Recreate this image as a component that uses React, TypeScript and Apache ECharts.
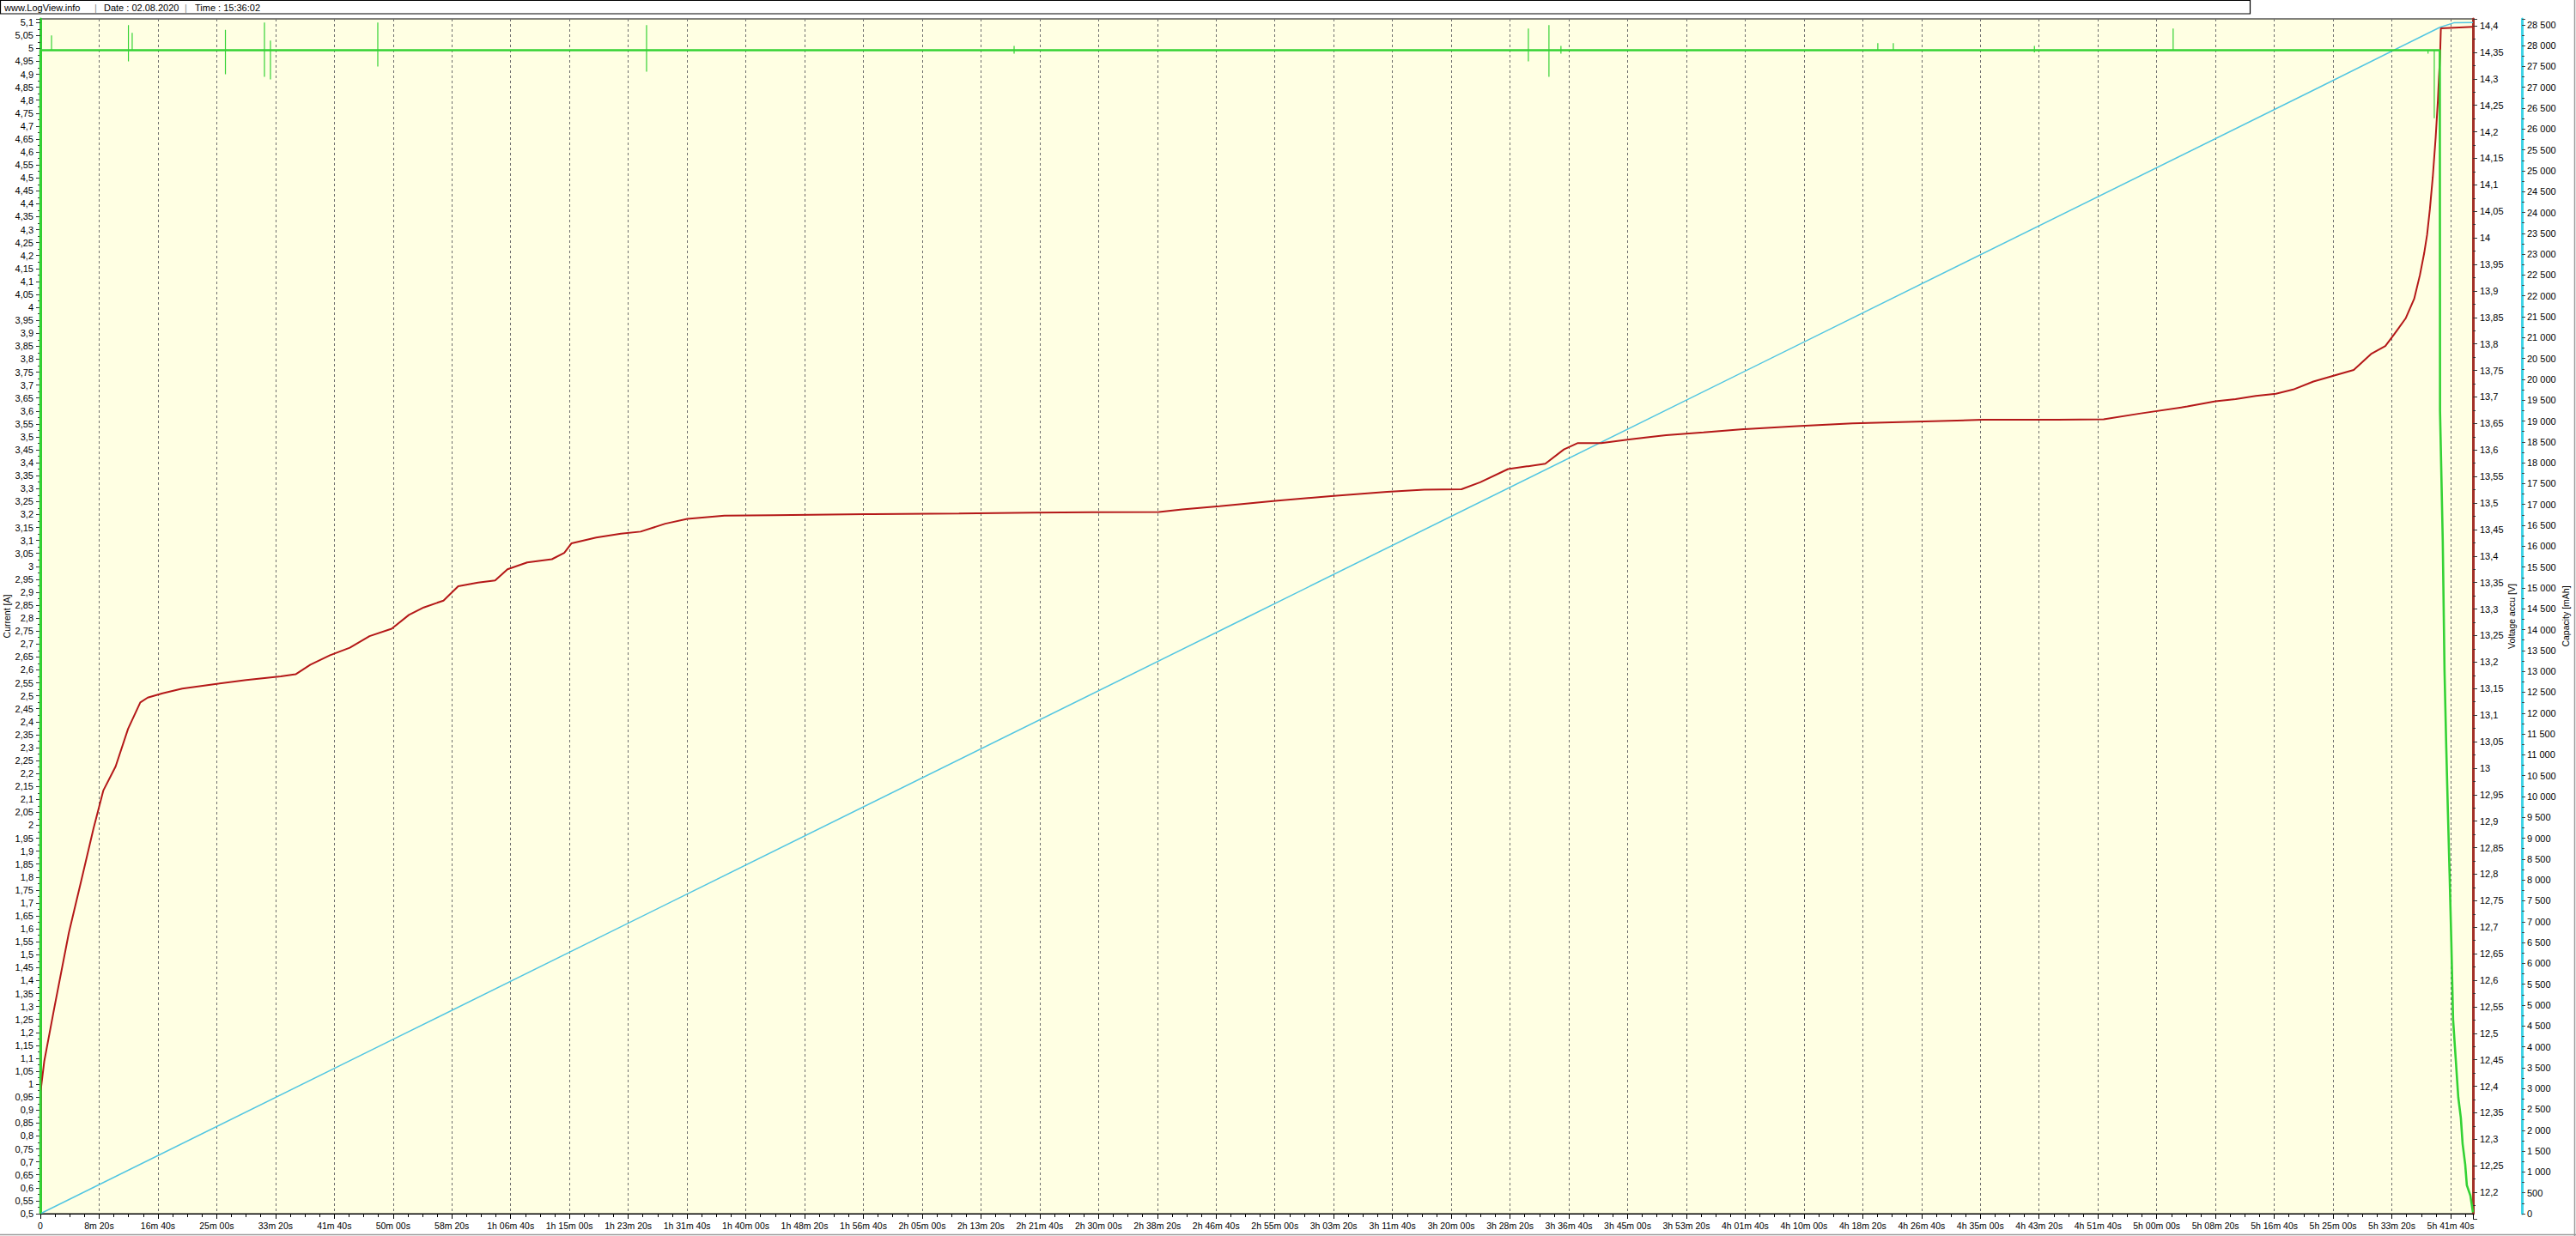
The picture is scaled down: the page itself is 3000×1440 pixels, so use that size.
import React, { useEffect, useRef } from "react";
import * as echarts from "echarts";

// ---------- DATA ----------
// x in seconds since start
const X_MAX = 20690;

// Current [A]  main trace (t, A)
const currentPoints: [number, number][] = [
  [0, 0.5], [0, 4.993], [20408, 4.993],
  [20410, 3.6], [20433, 3.1], [20448, 2.6], [20463, 2.3],
  [20477, 2.05], [20492, 1.8], [20506, 1.55], [20521, 1.25], [20543, 1.1],
  [20565, 0.95], [20587, 0.87], [20602, 0.77], [20624, 0.69], [20638, 0.61],
  [20668, 0.57], [20690, 0.505],
];

// Current [A]  short glitches: (t, top, bottom)
const currentSpikes: [number, number, number][] = [
  [95, 5.05, 4.993], [749, 5.09, 4.95], [781, 5.06, 4.993], [1574, 5.072, 4.9],
  [1906, 5.1, 4.89], [1957, 5.03, 4.88], [2870, 5.1, 4.93], [5156, 5.09, 4.91],
  [8282, 5.01, 4.98], [12656, 5.077, 4.95], [12831, 5.09, 4.89], [12933, 5.01, 4.98],
  [15628, 5.02, 4.993], [15760, 5.02, 4.993], [16960, 5.01, 4.985], [18140, 5.077, 4.993],
  [20308, 4.993, 4.98], [20361, 4.993, 4.73],
];

// Voltage accu [V]  (t, V)
const voltagePoints: [number, number][] = [
  [0, 12.165], [2, 12.39], [33, 12.447], [117, 12.546], [242, 12.689], [347, 12.787],
  [452, 12.886], [536, 12.958], [640, 13.003], [746, 13.074], [850, 13.124], [913, 13.133],
  [1039, 13.141], [1207, 13.15], [1500, 13.159], [1751, 13.166], [2045, 13.173], [2171, 13.177],
  [2297, 13.195], [2464, 13.213], [2632, 13.227], [2800, 13.249], [2988, 13.263], [3135, 13.289],
  [3261, 13.303], [3429, 13.316], [3554, 13.343], [3722, 13.35], [3868, 13.354], [3973, 13.375],
  [4141, 13.388], [4351, 13.394], [4456, 13.406], [4518, 13.424], [4728, 13.435], [4938, 13.442],
  [5105, 13.446], [5315, 13.461], [5503, 13.47], [5818, 13.476], [6237, 13.477], [7021, 13.479],
  [7813, 13.48], [8446, 13.482], [9514, 13.483], [9712, 13.488], [10029, 13.494], [10504, 13.504],
  [10978, 13.513], [11454, 13.521], [11770, 13.525], [12087, 13.526], [12246, 13.539], [12483, 13.564],
  [12800, 13.574], [12958, 13.601], [13077, 13.613], [13275, 13.613], [13512, 13.62], [13828, 13.628],
  [14145, 13.633], [14462, 13.639], [14937, 13.645], [15412, 13.65], [15886, 13.653], [16520, 13.657],
  [17153, 13.657], [17549, 13.658], [17865, 13.669], [18261, 13.682], [18500, 13.692], [18671, 13.696],
  [18843, 13.702], [19014, 13.706], [19161, 13.714], [19333, 13.729], [19504, 13.74], [19676, 13.751],
  [19823, 13.781], [19945, 13.796], [20019, 13.818], [20117, 13.848], [20190, 13.885], [20239, 13.93],
  [20275, 13.971], [20300, 14.006], [20324, 14.055], [20348, 14.114], [20373, 14.19], [20392, 14.26],
  [20402, 14.308], [20410, 14.341], [20417, 14.395], [20690, 14.398],
];

// Capacity [mAh]  (t, mAh)
const capacityPoints: [number, number][] = [
  [0, 0], [3000, 4179], [10266, 14300], [15278, 21282], [19375, 26989],
  [20410, 28440], [20527, 28545], [20690, 28550],
];

const headerTexts = ["www.LogView.info", "Date : 02.08.2020", "Time : 15:36:02"];
const axisNames = ["Current [A]", "Voltage accu [V]", "Capacity [mAh]"];

// ---------- formatting ----------
const FONT = "'Liberation Sans', Arial, sans-serif";
const pad2 = (n: number) => String(n).padStart(2, "0");
const fmtTime = (v: number) => {
  const t = Math.round(v);
  if (t === 0) return "0";
  const h = Math.floor(t / 3600);
  const m = Math.floor((t % 3600) / 60);
  const s = t % 60;
  return h > 0 ? `${h}h ${pad2(m)}m ${pad2(s)}s` : `${m}m ${pad2(s)}s`;
};
const fmtDec = (v: number) => String(Math.round(v * 100) / 100).replace(".", ",");
const fmtCap = (v: number) => {
  const r = Math.round(v);
  return r >= 1000 ? `${Math.floor(r / 1000)} ${String(r % 1000).padStart(3, "0")}` : String(r);
};
// vertical segments separated by empty points
const segments = (rows: [number, number, number][]) =>
  rows.flatMap(([t, a, b]) => [[t, a], [t, b], [t, "-"]]);

const GREEN = "#34D234";
const RED = "#B41818";
const CYAN = "#52C6E2";
const RED_AXIS = "#A33028";
const CYAN_AXIS = "#3FD3E6";

const labelStyle = { color: "#000", fontSize: 11, fontFamily: FONT };

function buildOption(): any {
  return {
    animation: false,
    backgroundColor: "#ffffff",
    textStyle: { fontFamily: FONT },
    grid: [
      {
        left: 47, top: 22, width: 2833, height: 1392,
        show: true, backgroundColor: "#FFFFE3", borderColor: "#000", borderWidth: 1,
      },
      { left: 47, top: 22, width: 2833, height: 1398, show: false },
    ],
    xAxis: [
      {
        gridIndex: 0, type: "value", min: 0, max: X_MAX, interval: 500,
        axisLine: { show: true, onZero: false, lineStyle: { color: "#000", width: 1 } },
        axisTick: { show: true, length: 6, lineStyle: { color: "#000" } },
        minorTick: { show: true, splitNumber: 4, length: 4, lineStyle: { color: "#000" } },
        axisLabel: {
          ...labelStyle, fontSize: 10.5, margin: 8, showMaxLabel: false,
          formatter: fmtTime,
        },
        splitLine: { show: true, lineStyle: { color: "#6e6e6e", width: 1, type: [3, 3] } },
      },
      { gridIndex: 1, type: "value", min: 0, max: X_MAX, show: false },
    ],
    yAxis: [
      {
        gridIndex: 0, type: "value", position: "left", min: 0.5, max: 5.114, interval: 0.05,
        axisLine: { show: true, onZero: false, lineStyle: { color: "#33CC33", width: 3 } },
        axisTick: { show: true, length: 5, lineStyle: { color: "#333" } },
        minorTick: { show: true, splitNumber: 2, length: 3, lineStyle: { color: "#333" } },
        axisLabel: { ...labelStyle, margin: 8, showMaxLabel: false, formatter: fmtDec },
        splitLine: { show: false },
      },
      {
        gridIndex: 0, type: "value", position: "right", offset: 57, min: 0, max: 28640, interval: 500,
        axisLine: { show: true, onZero: false, lineStyle: { color: CYAN_AXIS, width: 3 } },
        axisTick: { show: true, length: 4, lineStyle: { color: "#444" } },
        minorTick: { show: true, splitNumber: 2, length: 3, lineStyle: { color: "#444" } },
        axisLabel: { ...labelStyle, margin: 6, showMaxLabel: false, formatter: fmtCap },
        splitLine: { show: false },
      },
      {
        gridIndex: 0, type: "value", position: "right", offset: 0, min: 0, max: 1,
        axisLine: { show: true, onZero: false, lineStyle: { color: RED_AXIS, width: 3 } },
        axisTick: { show: false }, axisLabel: { show: false }, splitLine: { show: false },
      },
      {
        gridIndex: 1, type: "value", position: "right", offset: 0, min: 12.15, max: 14.413, interval: 0.05,
        axisLine: { show: false, onZero: false },
        axisTick: { show: true, length: 5, lineStyle: { color: "#333" } },
        minorTick: { show: true, splitNumber: 2, length: 3, lineStyle: { color: "#333" } },
        axisLabel: { ...labelStyle, margin: 8, showMinLabel: false, showMaxLabel: false, formatter: fmtDec },
        splitLine: { show: false },
      },
    ],
    series: [
      {
        name: "Capacity", type: "line", xAxisIndex: 0, yAxisIndex: 1, data: capacityPoints,
        showSymbol: false, lineStyle: { color: CYAN, width: 1.5 }, itemStyle: { color: CYAN },
      },
      {
        name: "Voltage", type: "line", xAxisIndex: 1, yAxisIndex: 3, data: voltagePoints,
        showSymbol: false, lineStyle: { color: RED, width: 2 }, itemStyle: { color: RED },
      },
      {
        name: "Current glitches", type: "line", xAxisIndex: 0, yAxisIndex: 0, data: segments(currentSpikes),
        showSymbol: false, connectNulls: false, lineStyle: { color: GREEN, width: 1.2 }, itemStyle: { color: GREEN },
      },
      {
        name: "Current", type: "line", xAxisIndex: 0, yAxisIndex: 0, data: currentPoints,
        showSymbol: false, lineStyle: { color: GREEN, width: 2.6 }, itemStyle: { color: GREEN },
      },
    ],
    graphic: [
      {
        type: "rect", shape: { x: 0.5, y: 0.5, width: 2620, height: 15.5 },
        style: { fill: "#fff", stroke: "#000", lineWidth: 1.2 }, silent: true,
      },
      { type: "text", x: 5, y: 8.5, style: { text: headerTexts[0], fontSize: 11, fontFamily: FONT, fill: "#000", verticalAlign: "middle" } },
      { type: "text", x: 110, y: 8.5, style: { text: "|", fontSize: 11, fontFamily: FONT, fill: "#888", verticalAlign: "middle" } },
      { type: "text", x: 121, y: 8.5, style: { text: headerTexts[1], fontSize: 11, fontFamily: FONT, fill: "#000", verticalAlign: "middle" } },
      { type: "text", x: 215, y: 8.5, style: { text: "|", fontSize: 11, fontFamily: FONT, fill: "#888", verticalAlign: "middle" } },
      { type: "text", x: 227, y: 8.5, style: { text: headerTexts[2], fontSize: 11, fontFamily: FONT, fill: "#000", verticalAlign: "middle" } },
      {
        type: "text", x: 8, y: 718, rotation: Math.PI / 2,
        style: { text: axisNames[0], fontSize: 10.5, fontFamily: FONT, fill: "#000", align: "center", verticalAlign: "middle" },
      },
      {
        type: "text", x: 2925, y: 718, rotation: Math.PI / 2,
        style: { text: axisNames[1], fontSize: 10.5, fontFamily: FONT, fill: "#000", align: "center", verticalAlign: "middle" },
      },
      {
        type: "text", x: 2988, y: 718, rotation: Math.PI / 2,
        style: { text: axisNames[2], fontSize: 10.5, fontFamily: FONT, fill: "#000", align: "center", verticalAlign: "middle" },
      },
      {
        type: "line", shape: { x1: 2998.5, y1: 0, x2: 2998.5, y2: 1440 },
        style: { stroke: "#9a9a9a", lineWidth: 1.5 }, silent: true,
      },
      {
        type: "line", shape: { x1: 0, y1: 1438.5, x2: 3000, y2: 1438.5 },
        style: { stroke: "#9a9a9a", lineWidth: 1.5 }, silent: true,
      },
    ],
  };
}

export default function App() {
  const ref = useRef<HTMLDivElement>(null);
  useEffect(() => {
    if (!ref.current) return;
    const chart = echarts.init(ref.current, null, { renderer: "svg" });
    chart.setOption(buildOption());
    return () => chart.dispose();
  }, []);
  return (
    <div
      ref={ref}
      style={{ position: "fixed", left: 0, top: 0, width: 3000, height: 1440, background: "#fff" }}
    />
  );
}
